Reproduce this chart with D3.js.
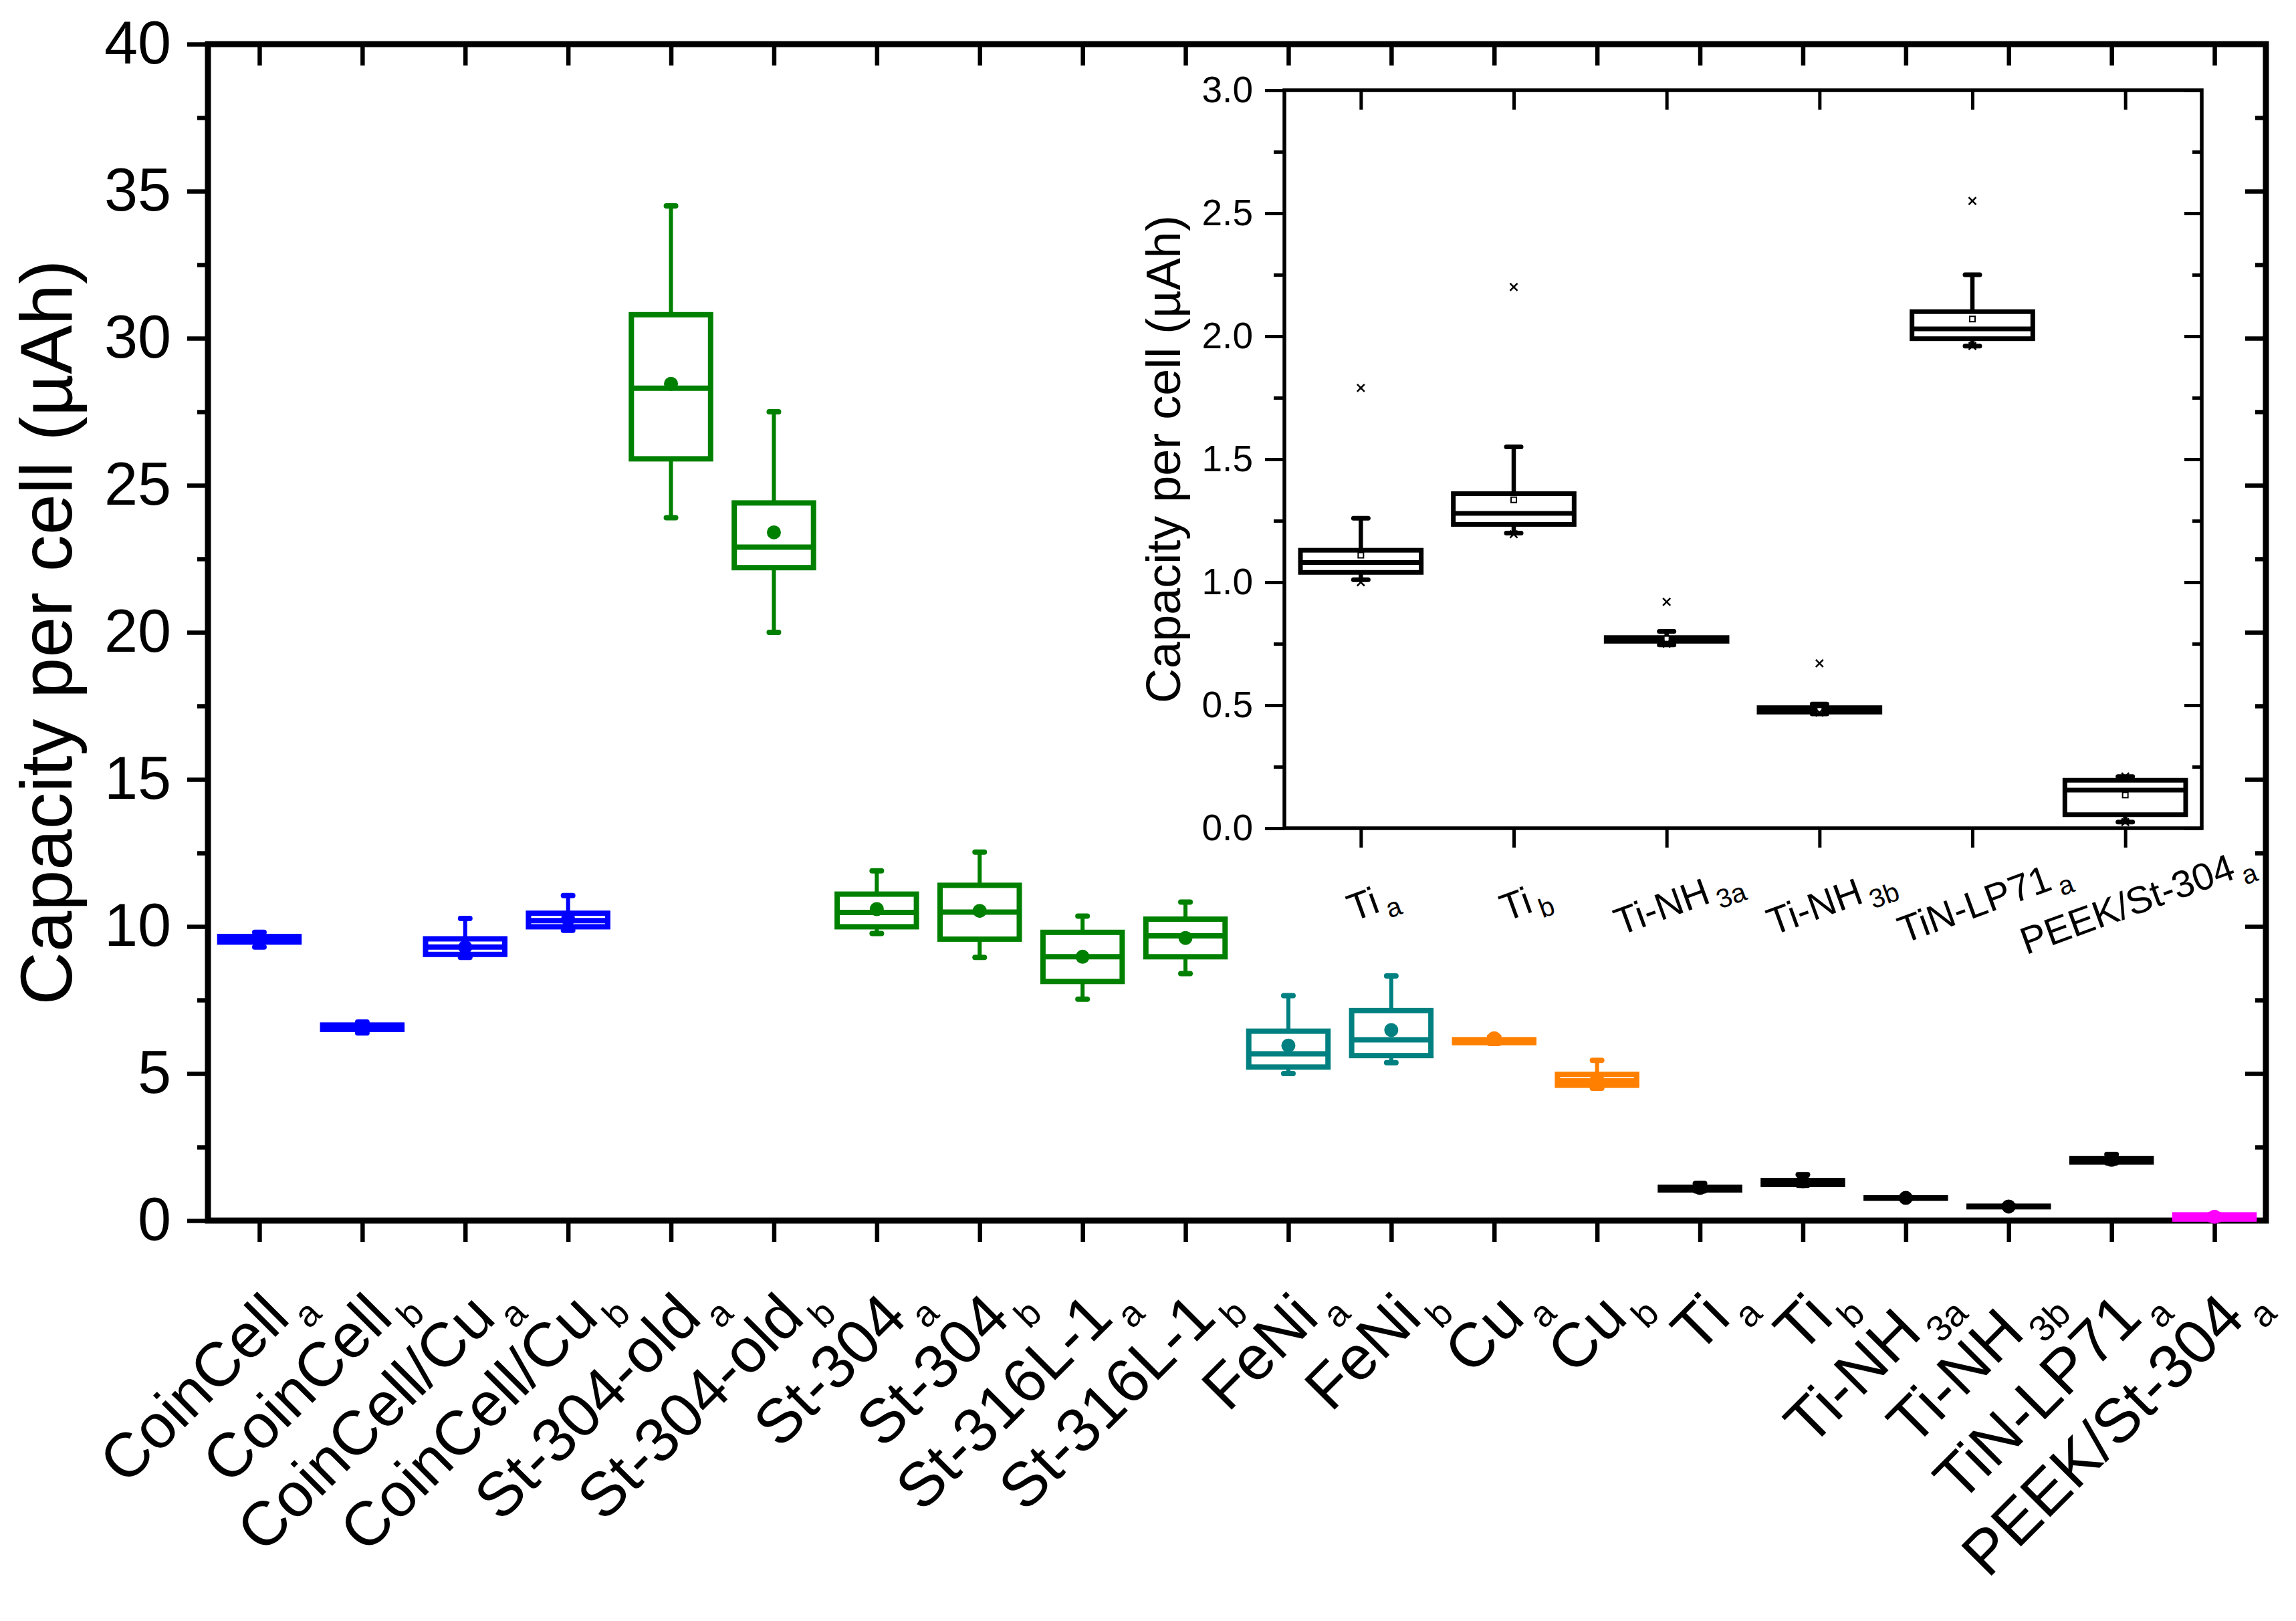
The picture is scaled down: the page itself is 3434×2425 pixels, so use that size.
<!DOCTYPE html>
<html>
<head>
<meta charset="utf-8">
<script src="https://cdn.jsdelivr.net/npm/d3@7"></script>
<style>
  html, body { margin: 0; padding: 0; background: #fff; }
  svg { display: block; font-family: "Liberation Sans", Arial, sans-serif; }
</style>
</head>
<body>
<div id="chart"></div>
<script>
// ---- main chart data (µAh per cell) ----
var categories = ["CoinCell", "CoinCell", "CoinCell/Cu", "CoinCell/Cu", "St-304-old", "St-304-old",
    "St-304", "St-304", "St-316L-1", "St-316L-1", "FeNi", "FeNi", "Cu", "Cu",
    "Ti", "Ti", "Ti-NH", "Ti-NH", "TiN-LP71", "PEEK/St-304"];
var subscripts = ["a", "b", "a", "b", "a", "b", "a", "b", "a", "b", "a", "b", "a", "b",
    "a", "b", "3a", "3b", "a", "a"];
var groups = ["coin", "coin", "coin", "coin", "steel", "steel", "steel", "steel", "steel", "steel",
    "feni", "feni", "cu", "cu", "ti", "ti", "ti", "ti", "ti", "peek"];

var whiskerLow  = [9.30, 6.38, 8.95, 9.87, 23.9, 20.0, 9.76, 8.95, 7.53, 8.40, 5.00, 5.37, 6.02, 4.50, 1.01, 1.20, 0.74, 0.46, 1.96, 0.03];
var q1          = [9.47, 6.50, 9.05, 9.99, 25.9, 22.2, 9.99, 9.57, 8.13, 8.97, 5.22, 5.61, 6.05, 4.60, 1.04, 1.23, 0.76, 0.47, 1.99, 0.05];
var median      = [9.57, 6.58, 9.30, 10.2, 28.3, 22.9, 10.48, 10.49, 8.97, 9.68, 5.67, 6.15, 6.10, 4.75, 1.08, 1.28, 0.77, 0.48, 2.03, 0.155];
var q3          = [9.66, 6.65, 9.58, 10.45, 30.8, 24.4, 11.10, 11.40, 9.80, 10.25, 6.44, 7.14, 6.15, 4.97, 1.13, 1.36, 0.775, 0.49, 2.11, 0.195];
var whiskerHigh = [9.80, 6.75, 10.27, 11.05, 34.5, 27.5, 11.89, 12.53, 10.35, 10.83, 7.65, 8.32, 6.25, 5.45, 1.26, 1.56, 0.80, 0.51, 2.25, 0.21];
var mean        = [9.55, 6.55, 9.30, 10.25, 28.45, 23.4, 10.59, 10.53, 8.97, 9.61, 5.95, 6.48, 6.20, 4.80, 1.11, 1.34, 0.77, 0.48, 2.07, 0.13];

var yTicks = [0, 5, 10, 15, 20, 25, 30, 35, 40];
var yMinorTicks = [2.5, 7.5, 12.5, 17.5, 22.5, 27.5, 32.5, 37.5];

// ---- inset data ----
var insetCategories = ["Ti", "Ti", "Ti-NH", "Ti-NH", "TiN-LP71", "PEEK/St-304"];
var insetSubscripts = ["a", "b", "3a", "3b", "a", "a"];
var insetLow    = [1.01, 1.20, 0.745, 0.465, 1.96, 0.025];
var insetQ1     = [1.04, 1.235, 0.76, 0.472, 1.99, 0.055];
var insetMedian = [1.08, 1.28, 0.77, 0.48, 2.03, 0.155];
var insetQ3     = [1.13, 1.36, 0.775, 0.49, 2.10, 0.195];
var insetHigh   = [1.26, 1.55, 0.80, 0.505, 2.25, 0.21];
var insetMean   = [1.11, 1.335, 0.77, 0.48, 2.07, 0.135];
var insetMax    = [1.79, 2.20, 0.92, 0.67, 2.55, 0.21];
var insetMin    = [1.00, 1.195, 0.75, 0.47, 1.96, 0.025];

var insetYTicks = [0, 0.5, 1.0, 1.5, 2.0, 2.5, 3.0];
var insetYMinorTicks = [0.25, 0.75, 1.25, 1.75, 2.25, 2.75];

var colors = { coin: "#0000ff", steel: "#008000", feni: "#008080", cu: "#ff8000", ti: "#000000", peek: "#ff00ff" };

var width = 3434, height = 2425;

var svg = d3.select("#chart").append("svg")
    .attr("width", width)
    .attr("height", height);

svg.append("rect").attr("width", width).attr("height", height).attr("fill", "#fff");

// ---- main scales ----
var x = d3.scaleLinear().domain([0.5, 20.5]).range([311, 3389]);
var y = d3.scaleLinear().domain([0, 40]).range([1826, 66]);
var step = x(2) - x(1);

// draws ticks of an axis, strips the domain line
function styleAxis(g, w, fs) {
    g.select(".domain").remove();
    g.selectAll(".tick line").attr("stroke", "#000").attr("stroke-width", w);
    g.attr("font-family", null).attr("font-size", fs);
    g.selectAll(".tick text").attr("fill", "#000");
}

var idx = d3.range(1, categories.length + 1);

svg.append("g").attr("transform", "translate(0," + y(0) + ")")
    .call(d3.axisBottom(x).tickValues(idx).tickSize(32).tickSizeOuter(0).tickFormat(""))
    .call(styleAxis, 6.5, 90);
svg.append("g").attr("transform", "translate(0," + y(40) + ")")
    .call(d3.axisTop(x).tickValues(idx).tickSize(-32).tickSizeOuter(0).tickFormat(""))
    .call(styleAxis, 6.5, 90);
svg.append("g").attr("transform", "translate(" + x(0.5) + ",0)")
    .call(d3.axisLeft(y).tickValues(yTicks).tickSize(31).tickSizeOuter(0).tickPadding(24))
    .call(styleAxis, 6.5, 90);
svg.append("g").attr("transform", "translate(" + x(0.5) + ",0)")
    .call(d3.axisLeft(y).tickValues(yMinorTicks).tickSize(16).tickSizeOuter(0).tickFormat(""))
    .call(styleAxis, 6.5, 90);
svg.append("g").attr("transform", "translate(" + x(20.5) + ",0)")
    .call(d3.axisRight(y).tickValues(yTicks).tickSize(-31).tickSizeOuter(0).tickFormat(""))
    .call(styleAxis, 6.5, 90);
svg.append("g").attr("transform", "translate(" + x(20.5) + ",0)")
    .call(d3.axisRight(y).tickValues(yMinorTicks).tickSize(-16).tickSizeOuter(0).tickFormat(""))
    .call(styleAxis, 6.5, 90);

// frame
svg.append("rect")
    .attr("x", x(0.5)).attr("y", y(40))
    .attr("width", x(20.5) - x(0.5)).attr("height", y(0) - y(40))
    .attr("fill", "none").attr("stroke", "#000").attr("stroke-width", 9);

// rotated category labels
svg.append("g").selectAll("text")
    .data(categories)
    .join("text")
    .attr("transform", function (d, i) {
        return "translate(" + (x(i + 1) + 76) + "," + (y(0) + 122) + ") rotate(-45)";
    })
    .attr("text-anchor", "end")
    .attr("font-size", 93)
    .each(function (d, i) {
        var t = d3.select(this);
        t.append("tspan").text(d);
        t.append("tspan").attr("font-size", 55).attr("dx", 8).attr("dy", 28).text(subscripts[i]);
    });

// y title
svg.append("text")
    .attr("transform", "translate(107," + ((y(0) + y(40)) / 2) + ") rotate(-90)")
    .attr("text-anchor", "middle")
    .attr("font-size", 110)
    .text("Capacity per cell (µAh)");

// ---- boxes ----
function drawBoxes(g, xs, ys, rows, o) {
    var item = g.selectAll("g.box").data(rows).join("g").attr("class", "box")
        .attr("stroke", function (d) { return d.color; });

    // whiskers
    item.append("line")
        .attr("x1", function (d) { return xs(d.pos); }).attr("x2", function (d) { return xs(d.pos); })
        .attr("y1", function (d) { return ys(d.q3); }).attr("y2", function (d) { return ys(d.high); })
        .attr("stroke-width", o.whisker);
    item.append("line")
        .attr("x1", function (d) { return xs(d.pos); }).attr("x2", function (d) { return xs(d.pos); })
        .attr("y1", function (d) { return ys(d.q1); }).attr("y2", function (d) { return ys(d.low); })
        .attr("stroke-width", o.whisker);
    // caps
    [ "high", "low" ].forEach(function (k) {
        item.append("line")
            .attr("x1", function (d) { return xs(d.pos) - o.cap; })
            .attr("x2", function (d) { return xs(d.pos) + o.cap; })
            .attr("y1", function (d) { return ys(d[k]); })
            .attr("y2", function (d) { return ys(d[k]); })
            .attr("stroke-width", o.capWidth)
            .attr("stroke-linecap", "round");
    });
    // box + median
    item.append("rect")
        .attr("x", function (d) { return xs(d.pos) - o.boxW / 2; })
        .attr("y", function (d) { return ys(d.q3); })
        .attr("width", o.boxW)
        .attr("height", function (d) { return Math.max(ys(d.q1) - ys(d.q3), 0.5); })
        .attr("fill", "none")
        .attr("stroke-width", o.stroke);
    item.append("line")
        .attr("x1", function (d) { return xs(d.pos) - o.boxW / 2; })
        .attr("x2", function (d) { return xs(d.pos) + o.boxW / 2; })
        .attr("y1", function (d) { return ys(d.med); })
        .attr("y2", function (d) { return ys(d.med); })
        .attr("stroke-width", o.stroke);
}

var mainRows = categories.map(function (c, i) {
    return { pos: i + 1, low: whiskerLow[i], q1: q1[i], med: median[i], q3: q3[i],
        high: whiskerHigh[i], mean: mean[i], color: colors[groups[i]] };
});

var mainG = svg.append("g");
drawBoxes(mainG, x, y, mainRows, { boxW: step * 0.77, stroke: 8, whisker: 6, cap: 7, capWidth: 8 });
mainG.selectAll("circle").data(mainRows).join("circle")
    .attr("cx", function (d) { return x(d.pos); })
    .attr("cy", function (d) { return y(d.mean); })
    .attr("r", 10.5)
    .attr("fill", function (d) { return d.color; });

// ---- inset ----
var ix = d3.scaleLinear().domain([0.5, 6.5]).range([1921, 3293]);
var iy = d3.scaleLinear().domain([0, 3]).range([1239, 135]);
var istep = ix(2) - ix(1);
var iidx = d3.range(1, insetCategories.length + 1);

var inset = svg.append("g");
inset.append("rect")
    .attr("x", ix(0.5)).attr("y", iy(3))
    .attr("width", ix(6.5) - ix(0.5)).attr("height", iy(0) - iy(3))
    .attr("fill", "#fff");

inset.append("g").attr("transform", "translate(0," + iy(0) + ")")
    .call(d3.axisBottom(ix).tickValues(iidx).tickSize(29).tickSizeOuter(0).tickFormat(""))
    .call(styleAxis, 5, 54);
inset.append("g").attr("transform", "translate(0," + iy(3) + ")")
    .call(d3.axisTop(ix).tickValues(iidx).tickSize(-29).tickSizeOuter(0).tickFormat(""))
    .call(styleAxis, 5, 54);
inset.append("g").attr("transform", "translate(" + ix(0.5) + ",0)")
    .call(d3.axisLeft(iy).tickValues(insetYTicks).tickSize(29).tickSizeOuter(0).tickPadding(18).tickFormat(d3.format(".1f")))
    .call(styleAxis, 5, 55);
inset.append("g").attr("transform", "translate(" + ix(0.5) + ",0)")
    .call(d3.axisLeft(iy).tickValues(insetYMinorTicks).tickSize(16).tickSizeOuter(0).tickFormat(""))
    .call(styleAxis, 5, 55);
inset.append("g").attr("transform", "translate(" + ix(6.5) + ",0)")
    .call(d3.axisRight(iy).tickValues(insetYTicks).tickSize(-26).tickSizeOuter(0).tickFormat(""))
    .call(styleAxis, 5, 55);
inset.append("g").attr("transform", "translate(" + ix(6.5) + ",0)")
    .call(d3.axisRight(iy).tickValues(insetYMinorTicks).tickSize(-14).tickSizeOuter(0).tickFormat(""))
    .call(styleAxis, 5, 55);

inset.append("rect")
    .attr("x", ix(0.5)).attr("y", iy(3))
    .attr("width", ix(6.5) - ix(0.5)).attr("height", iy(0) - iy(3))
    .attr("fill", "none").attr("stroke", "#000").attr("stroke-width", 5.5);

inset.append("g").selectAll("text")
    .data(insetCategories)
    .join("text")
    .attr("transform", function (d, i) {
        return "translate(" + (ix(i + 1) + 17) + "," + (iy(0) + 108) + ") rotate(-20)";
    })
    .attr("text-anchor", "middle")
    .attr("dominant-baseline", "central")
    .attr("font-size", 57)
    .each(function (d, i) {
        var t = d3.select(this);
        t.append("tspan").text(d);
        t.append("tspan").attr("font-size", 40).attr("dx", 8).attr("dy", 20).text(insetSubscripts[i]);
    });

inset.append("text")
    .attr("transform", "translate(1765," + ((iy(0) + iy(3)) / 2) + ") rotate(-90)")
    .attr("text-anchor", "middle")
    .attr("font-size", 72)
    .text("Capacity per cell (µAh)");

var insetRows = insetCategories.map(function (c, i) {
    return { pos: i + 1, low: insetLow[i], q1: insetQ1[i], med: insetMedian[i], q3: insetQ3[i],
        high: insetHigh[i], mean: insetMean[i], max: insetMax[i], min: insetMin[i], color: "#000" };
});

var insetG = inset.append("g");
drawBoxes(insetG, ix, iy, insetRows, { boxW: istep * 0.79, stroke: 7, whisker: 6.5, cap: 11, capWidth: 7 });

// mean squares
insetG.selectAll("rect.mean").data(insetRows).join("rect").attr("class", "mean")
    .attr("x", function (d) { return ix(d.pos) - 4; })
    .attr("y", function (d) { return iy(d.mean) - 4; })
    .attr("width", 8).attr("height", 8)
    .attr("fill", "#fff").attr("stroke", "#000").attr("stroke-width", 2);

// max / min cross markers
var crossPts = [];
insetRows.forEach(function (d) {
    crossPts.push({ pos: d.pos, v: d.max });
    crossPts.push({ pos: d.pos, v: d.min });
});
insetG.selectAll("path.cross").data(crossPts).join("path").attr("class", "cross")
    .attr("d", function (d) {
        var cx = ix(d.pos), cy = iy(d.v), s = 5.5;
        return "M" + (cx - s) + "," + (cy - s) + "L" + (cx + s) + "," + (cy + s) +
            "M" + (cx - s) + "," + (cy + s) + "L" + (cx + s) + "," + (cy - s);
    })
    .attr("stroke", "#000").attr("stroke-width", 2.5).attr("fill", "none");
</script>
</body>
</html>
